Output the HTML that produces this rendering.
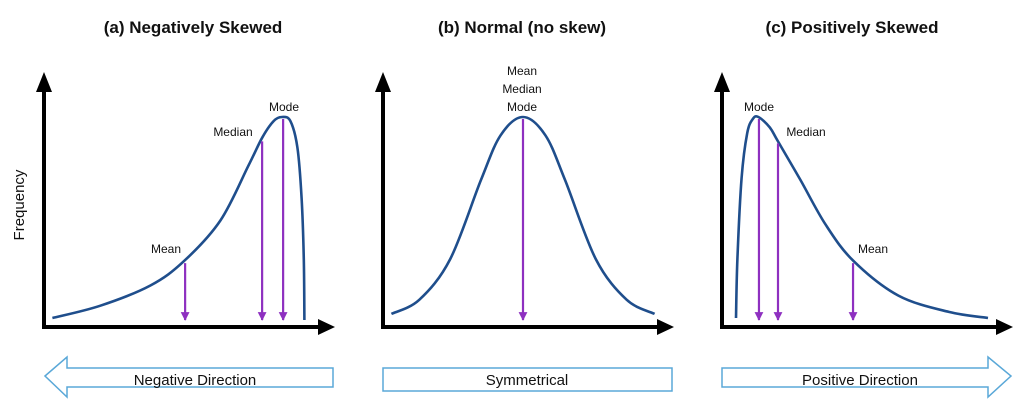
<!DOCTYPE html>
<html><head><meta charset="utf-8"><style>
html,body{margin:0;padding:0;background:#fff;}
svg{display:block;font-family:"Liberation Sans",sans-serif;}
</style></head><body>
<svg id="chart" width="1024" height="411" viewBox="0 0 1024 411" xmlns="http://www.w3.org/2000/svg">
<defs>
<marker id="pa" viewBox="0 0 10 10" refX="9" refY="5" markerWidth="4" markerHeight="4" orient="auto"><path d="M0,0 L10,5 L0,10 z" fill="#8e30c0"/></marker>
</defs>
<g id="root"></g>
</svg>
<script>
// Data (x: 0-100 along axis, y: frequency 0-100)
const curveAx=[3,20,38,50,63,73,78,82,85,88,90.5,92,92.8,93];
const curveAy=[1,7,17,29,49,76,90,98,100,98,85,60,30,0];
const curveBx=[3,13,24,35,42,50,58,65,76,87,97];
const curveBy=[3,10,30,69,91,100,91,69,30,10,3];
const curveCx=[5,5.5,7,9,11,13,17,20,28,37,47,63,81,95];
const curveCy=[1,30,70,92,99,100,95,88,69,47,29,12,4,1];
const statsA={names:["Mean","Median","Mode"],x:[50.4,77.9,85.4],y:[29,89,100]};
const statsB={names:["Mean / Median / Mode"],x:[50],y:[100]};
const statsC={names:["Mode","Median","Mean"],x:[13.2,20,46.8],y:[100,88,29]};
const titles=["(a) Negatively Skewed","(b) Normal (no skew)","(c) Positively Skewed"];
const directions=["Negative Direction","Symmetrical","Positive Direction"];

const NS="http://www.w3.org/2000/svg";
const root=document.getElementById('root');
function mk(tag,attrs,parent){const e=document.createElementNS(NS,tag);for(const k in attrs)e.setAttribute(k,attrs[k]);(parent||root).appendChild(e);return e;}
const baseY=320, pxY=2.03, pxX=2.8;
function smooth(pts){let d="M"+pts[0][0]+","+pts[0][1];for(let i=0;i<pts.length-1;i++){const p0=pts[Math.max(0,i-1)],p1=pts[i],p2=pts[i+1],p3=pts[Math.min(pts.length-1,i+2)];const c1=[p1[0]+(p2[0]-p0[0])/6,p1[1]+(p2[1]-p0[1])/6],c2=[p2[0]-(p3[0]-p1[0])/6,p2[1]-(p3[1]-p1[1])/6];d+=" C"+c1+" "+c2+" "+p2;}return d;}

const panels=[
 {ox:44,cx:curveAx,cy:curveAy,st:statsA,tx:193,dir:-1},
 {ox:383,cx:curveBx,cy:curveBy,st:statsB,tx:522,dir:0},
 {ox:722,cx:curveCx,cy:curveCy,st:statsC,tx:852,dir:1}];
panels.forEach((p,i)=>{
 const g=mk('g',{});
 
 
 const X=v=>p.ox+v*pxX, Y=v=>baseY-v*pxY;
 const t=mk('text',{x:p.tx,y:33,'text-anchor':'middle','font-size':17,'font-weight':'bold',fill:'#111'},g);t.textContent=titles[i];
 
 
 const ax=mk('path',{d:`M${p.ox},80 L${p.ox},327 L${p.ox+278},327`,stroke:'#000','stroke-width':4,fill:'none'},g);
 
 
 const ah=mk('path',{d:`M${p.ox-8},92 L${p.ox},72 L${p.ox+8},92 Z M${p.ox+274},319 L${p.ox+291},327 L${p.ox+274},335 Z`,fill:'#000'},g);
 
 
 const pts=p.cx.map((v,k)=>[X(v).toFixed(1),Y(p.cy[k]).toFixed(1)].map(Number));
 const c=mk('path',{d:smooth(pts),stroke:'#1f4e8c','stroke-width':2.6,fill:'none'},g);
 
 
 p.st.x.forEach((v,k)=>{
  const l=mk('line',{x1:X(v),y1:Y(p.st.y[k])+2,x2:X(v),y2:baseY,stroke:'#8e30c0','stroke-width':2.2,'marker-end':'url(#pa)'},g);
  
  
 });
 if(i===0){[["Mean",166,253],["Median",233,136],["Mode",284,111]].forEach(a=>lab(g,a));}
 if(i===1){[["Mean",522,75],["Median",522,93],["Mode",522,111]].forEach(a=>lab(g,a));}
 if(i===2){[["Mode",759,111],["Median",806,136],["Mean",873,253]].forEach(a=>lab(g,a));}
 let d;
 if(p.dir<0) d=`M45,376 L67,357 L67,368 L333,368 L333,387 L67,387 L67,397 Z`;
 else if(p.dir>0) d=`M722,368 L988,368 L988,357 L1011,376 L988,397 L988,387 L722,387 Z`;
 else d=`M383,368 L672,368 L672,391 L383,391 Z`;
 const da=mk('path',{d:d,fill:'#fff',stroke:'#5aa8d8','stroke-width':1.5},g);
 
 
 const dt=mk('text',{x:p.dir<0?195:(p.dir>0?860:527),y:385,'text-anchor':'middle','font-size':15,fill:'#111'},g);dt.textContent=directions[i];
 
 
});
function lab(g,a){const t=mk('text',{x:a[1],y:a[2],'text-anchor':'middle','font-size':12,fill:'#111'},g);t.textContent=a[0];
 
 }
const yt=mk('text',{x:24,y:205,'text-anchor':'middle','font-size':15,fill:'#111',transform:'rotate(-90 24 205)'});yt.textContent="Frequency";


</script>
</body></html>
